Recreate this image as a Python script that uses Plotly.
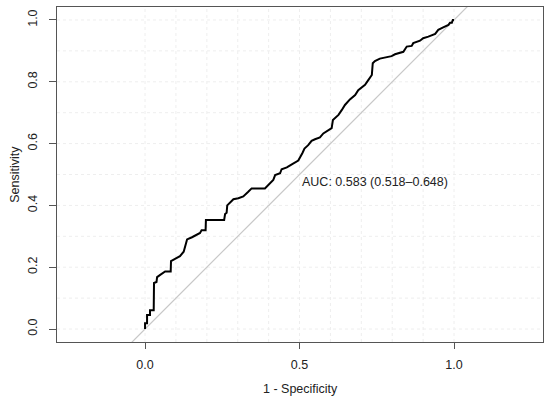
import plotly.graph_objects as go

# ROC curve (1 - specificity, sensitivity)
fpr = [0, 0, 0.0065, 0.0065, 0.016, 0.016, 0.028, 0.029, 0.037, 0.039, 0.049, 0.065,
       0.083, 0.084, 0.097, 0.113, 0.125, 0.136, 0.152, 0.178, 0.183, 0.196, 0.197,
       0.256, 0.259, 0.264, 0.266, 0.286, 0.302, 0.318, 0.334, 0.345, 0.388, 0.405,
       0.415, 0.421, 0.437, 0.442, 0.459, 0.475, 0.496, 0.509, 0.516, 0.528, 0.539,
       0.550, 0.566, 0.577, 0.593, 0.604, 0.608, 0.626, 0.637, 0.647, 0.663, 0.680,
       0.690, 0.712, 0.723, 0.734, 0.737, 0.744, 0.760, 0.782, 0.798, 0.809, 0.825,
       0.836, 0.847, 0.863, 0.868, 0.879, 0.890, 0.900, 0.917, 0.939, 0.949, 0.965,
       0.982, 0.987, 0.993, 0.996, 1.0]
tpr = [0, 0.019, 0.019, 0.045, 0.045, 0.061, 0.061, 0.149, 0.152, 0.168, 0.175, 0.186,
       0.186, 0.220, 0.227, 0.236, 0.250, 0.290, 0.297, 0.311, 0.320, 0.320, 0.353,
       0.353, 0.372, 0.376, 0.400, 0.420, 0.423, 0.429, 0.444, 0.455, 0.455, 0.473,
       0.482, 0.498, 0.504, 0.517, 0.523, 0.533, 0.545, 0.569, 0.584, 0.595, 0.609,
       0.614, 0.620, 0.633, 0.642, 0.650, 0.676, 0.693, 0.709, 0.725, 0.743, 0.757,
       0.773, 0.790, 0.806, 0.822, 0.860, 0.867, 0.875, 0.881, 0.883, 0.889, 0.894,
       0.897, 0.914, 0.916, 0.925, 0.930, 0.933, 0.941, 0.946, 0.955, 0.968, 0.976,
       0.984, 0.991, 0.991, 1.0, 1.0]

auc_label = "AUC: 0.583 (0.518\u20130.648)"
grid_vals = [i / 10 for i in range(11)]
x_ticks = [0.0, 0.5, 1.0]
y_ticks = [0.0, 0.2, 0.4, 0.6, 0.8, 1.0]

font = dict(family="Liberation Sans, Arial, sans-serif", size=12.5, color="#222")

fig = go.Figure()

# chance line
fig.add_trace(go.Scatter(x=[-1, 2], y=[-1, 2], mode="lines",
                         line=dict(color="#c8c8c8", width=1.2), hoverinfo="skip"))
fig.add_trace(go.Scatter(x=fpr, y=tpr, mode="lines",
                         line=dict(color="black", width=2)))

# faint dotted grid, only between 0 and 1 like R's grid()
for g in grid_vals:
    fig.add_shape(type="line", xref="x", yref="paper", x0=g, x1=g, y0=0, y1=1,
                  line=dict(color="#eeeeee", width=1, dash="dot"), layer="below")
    fig.add_shape(type="line", xref="paper", yref="y", x0=0, x1=1, y0=g, y1=g,
                  line=dict(color="#eeeeee", width=1, dash="dot"), layer="below")

fig.add_annotation(x=0.5, y=0.476, text=auc_label, showarrow=False,
                   xanchor="left", yanchor="middle", font=font)
fig.add_annotation(x=0.5, y=-0.14, xref="paper", yref="paper", text="1 - Specificity",
                   showarrow=False, xanchor="center", yanchor="middle", font=font)
fig.add_annotation(x=-0.088, y=0.5, xref="paper", yref="paper", text="Sensitivity",
                   showarrow=False, textangle=-90, xanchor="center", yanchor="middle",
                   font=font)

fig.update_xaxes(range=[-0.285, 1.288], tickvals=x_ticks,
                 ticktext=["%.1f" % v for v in x_ticks],
                 ticks="outside", ticklen=6, tickcolor="#555", showgrid=False,
                 zeroline=False, showline=True, linecolor="#555", mirror=True,
                 tickfont=font, ticklabelstandoff=5)
fig.update_yaxes(range=[-0.042, 1.042], tickvals=y_ticks,
                 ticktext=["%.1f" % v for v in y_ticks], tickangle=-90,
                 ticks="outside", ticklen=7, tickcolor="#555", showgrid=False,
                 zeroline=False, showline=True, linecolor="#555", mirror=True,
                 tickfont=font, ticklabelstandoff=7)

fig.update_layout(width=550, height=402, showlegend=False,
                  margin=dict(l=57, r=7, t=7, b=60),
                  plot_bgcolor="white", paper_bgcolor="white")

# drop the page's default body margin so the figure sits at the window corner
fig.write_html("out.html", config={"displayModeBar": False},
               post_script="document.body.style.margin='0';")
